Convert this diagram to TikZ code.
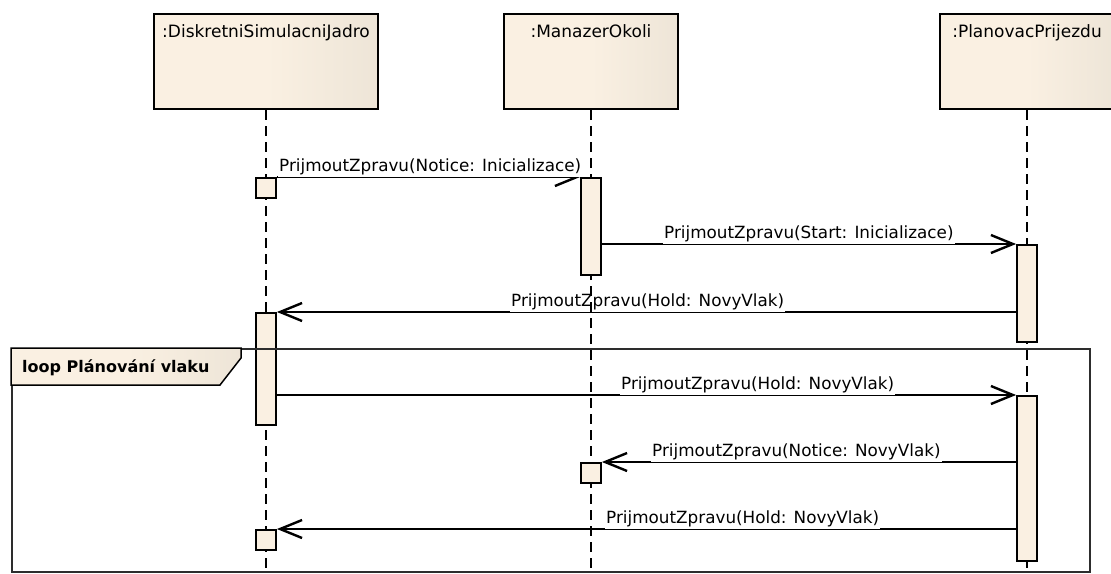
\documentclass[tikz,border=0pt]{standalone}
\usepackage{fontspec}
\setmainfont{DejaVu Sans}
\usetikzlibrary{arrows.meta}
\definecolor{cream}{RGB}{250,240,226}
\definecolor{creamdark}{RGB}{225,218,205}
\definecolor{framegray}{RGB}{45,45,45}
\pgfdeclarehorizontalshading{beige}{100bp}{color(0bp)=(cream); color(50bp)=(cream); color(100bp)=(creamdark)}
\pgfdeclarelayer{msgs}
\pgfdeclarelayer{lines}
\pgfsetlayers{msgs,lines,main}
\begin{document}
\begin{tikzpicture}[x=1pt, y=-1pt,
  head/.style={draw=black, line width=2pt, shading=beige, anchor=north, minimum height=95pt, inner sep=0pt},
  headtext/.style={anchor=base, font=\fontsize{17}{20}\selectfont, text=black, inner sep=0pt},
  act/.style={draw=black, line width=1.8pt, fill=cream, anchor=north, minimum width=20pt, inner sep=0pt},
  lifeline/.style={line width=2pt, dash pattern=on 10pt off 6pt},
  msg/.style={line width=1.8pt, -{Straight Barb[length=22pt,width=18pt,line width=2.4pt]}},
  msglabel/.style={anchor=south west, fill=white, inner xsep=1pt, inner ysep=2pt, font=\fontsize{16.8}{20}\selectfont, text=black},
  loopframe/.style={draw=framegray, line width=2pt, anchor=north west, inner sep=0pt},
  looptag/.style={draw=black, line width=1.5pt, shading=beige},
  looptext/.style={anchor=base west, inner sep=0pt, font=\fontsize{16}{19}\selectfont\bfseries, text=black}]
\useasboundingbox (0,0) rectangle (1111,573);
\clip (0,0) rectangle (1111,573);

% participants
\node[head, minimum width=224pt] (h1) at (266,13) {};
\node[head, minimum width=174pt] (h2) at (591,13) {};
\node[head, minimum width=174pt] (h3) at (1027,13) {};
\node[headtext] (n1) at (266,37) {:DiskretniSimulacniJadro};
\node[headtext] (n2) at (591,37) {:ManazerOkoli};
\node[headtext] (n3) at (1027,37) {:PlanovacPrijezdu};

% lifeline ends
\coordinate (e1) at (266,573);
\coordinate (e2) at (591,573);
\coordinate (e3) at (1027,573);

% activation bars
\node[act, minimum height=20pt]  (s1) at (266,177) {};
\node[act, minimum height=97pt]  (a2) at (591,177) {};
\node[act, minimum height=97pt]  (a3) at (1027,244) {};
\node[act, minimum height=112pt] (a4) at (266,312) {};
\node[act, minimum height=165pt] (a5) at (1027,395) {};
\node[act, minimum height=20pt]  (s2) at (591,462) {};
\node[act, minimum height=20pt]  (s3) at (266,529) {};

\begin{pgfonlayer}{lines}
  \draw[lifeline] (h1.south) -- (e1);
  \draw[lifeline] (h2.south) -- (e2);
  \draw[lifeline] (h3.south) -- (e3);
\end{pgfonlayer}

\begin{pgfonlayer}{msgs}
  \draw[msg] (s1.north east) -- (a2.north west);
  \draw[msg] (a2.east |- a3.north) -- (a3.north west);
  \draw[msg] (a3.west |- a4.north) -- (a4.north east);
  \draw[msg] (a4.east |- a5.north) -- (a5.north west);
  \draw[msg] (a5.west |- s2.north) -- (s2.north east);
  \draw[msg] (a5.west |- s3.north) -- (s3.north east);
  \node[msglabel] (m1) at (278,177) {PrijmoutZpravu(Notice: Inicializace)};
  \node[msglabel] (m2) at (663,244) {PrijmoutZpravu(Start: Inicializace)};
  \node[msglabel] (m3) at (510,312) {PrijmoutZpravu(Hold: NovyVlak)};
  \node[msglabel] (m4) at (620,395) {PrijmoutZpravu(Hold: NovyVlak)};
  \node[msglabel] (m5) at (651,462) {PrijmoutZpravu(Notice: NovyVlak)};
  \node[msglabel] (m6) at (605,529) {PrijmoutZpravu(Hold: NovyVlak)};
\end{pgfonlayer}

% combined fragment
\node[loopframe, minimum width=1078pt, minimum height=223pt] (lf) at (11,348) {};
\shadedraw[looptag] (lf.north west) -- ++(230,0) -- ++(0,10) -- ++(-21,27) -- (lf.north west |- 0,385) -- cycle;
\node[looptext] (lt) at (22,372.5) {loop Plánování vlaku};
\end{tikzpicture}
\end{document}
